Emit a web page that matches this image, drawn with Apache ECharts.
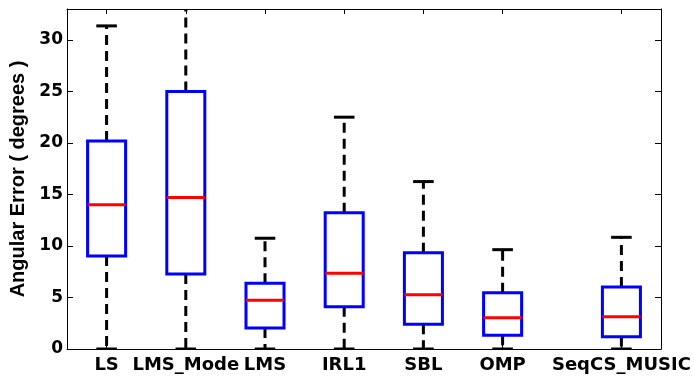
<!DOCTYPE html>
<html>
<head>
<meta charset="utf-8">
<script src="https://cdn.jsdelivr.net/npm/echarts@6/dist/echarts.min.js"></script>
<style>
  html, body { margin: 0; padding: 0; background: #fff; }
  #chart { width: 694px; height: 380px; }
</style>
</head>
<body>
<div id="chart"></div>
<script>
// methods and their x positions (SeqCS_MUSIC sits a bit further right)
const categories = ['LS', 'LMS_Mode', 'LMS', 'IRL1', 'SBL', 'OMP', 'SeqCS_MUSIC'];
const positions = [1, 2, 3, 4, 5, 6, 7.5];

// box statistics, angular error in degrees
const whiskerLow = [0, 0, 0, 0, 0, 0, 0];
const q1 = [9.03, 7.28, 2.04, 4.11, 2.4, 1.33, 1.2];
const median = [14.0, 14.7, 4.73, 7.35, 5.27, 3.04, 3.14];
const q3 = [20.2, 25.0, 6.38, 13.23, 9.35, 5.47, 6.02];
const whiskerHigh = [31.36, 35, 10.75, 22.5, 16.25, 9.64, 10.84];

const yTicks = [0, 5, 10, 15, 20, 25, 30];

const boxData = positions.map((x, i) => [x, whiskerLow[i], q1[i], median[i], q3[i], whiskerHigh[i]]);

const chart = echarts.init(document.getElementById('chart'));

const tickFont = { fontFamily: 'DejaVu Sans', fontWeight: 'bold', color: '#000' };

function renderBox(params, api) {
  const x = api.value(0);
  const lo = api.coord([x, api.value(1)]);
  const b1 = api.coord([x, api.value(2)]);
  const md = api.coord([x, api.value(3)]);
  const b3 = api.coord([x, api.value(4)]);
  const hi = api.coord([x, api.value(5)]);
  const boxW = api.size([0.48, 0])[0];
  const capW = api.size([0.26, 0])[0];
  const cx = b1[0];
  const dash = { stroke: '#000', lineWidth: 3, lineDash: [10, 6] };
  const cap = { stroke: '#000', lineWidth: 3 };
  return {
    type: 'group',
    children: [
      { type: 'line', shape: { x1: cx, y1: b3[1], x2: cx, y2: hi[1] }, style: dash },
      { type: 'line', shape: { x1: cx, y1: b1[1], x2: cx, y2: lo[1] }, style: dash },
      { type: 'line', shape: { x1: cx - capW / 2, y1: hi[1], x2: cx + capW / 2, y2: hi[1] }, style: cap },
      { type: 'line', shape: { x1: cx - capW / 2, y1: lo[1], x2: cx + capW / 2, y2: lo[1] }, style: cap },
      {
        type: 'rect',
        shape: { x: cx - boxW / 2, y: b3[1], width: boxW, height: b1[1] - b3[1] },
        style: { fill: '#fff', stroke: '#0000ff', lineWidth: 3 }
      },
      { type: 'line', shape: { x1: cx - boxW / 2, y1: md[1], x2: cx + boxW / 2, y2: md[1] }, style: { stroke: '#ff0000', lineWidth: 3 } }
    ]
  };
}

const option = {
  animation: false,
  grid: { left: 67, right: 33, top: 9, bottom: 31 },
  xAxis: [
    {
      type: 'value',
      min: 0.5,
      max: 8,
      splitLine: { show: false },
      axisLine: { lineStyle: { color: '#000', width: 1 } },
      axisTick: { inside: true, length: 5, customValues: positions, lineStyle: { color: '#000' } },
      axisLabel: {
        customValues: positions,
        margin: 7,
        fontSize: 18,
        ...tickFont,
        formatter: (v) => {
          const i = positions.indexOf(v);
          return i >= 0 ? categories[i] : '';
        }
      }
    },
    {
      type: 'value',
      position: 'top',
      min: 0.5,
      max: 8,
      splitLine: { show: false },
      axisLine: { onZero: false, lineStyle: { color: '#000', width: 1 } },
      axisTick: { inside: true, length: 5, customValues: positions, lineStyle: { color: '#000' } },
      axisLabel: { show: false }
    }
  ],
  yAxis: [
    {
      type: 'value',
      min: 0,
      max: 33,
      name: 'Angular Error ( degrees )',
      nameLocation: 'middle',
      nameGap: 30,
      nameTextStyle: { fontFamily: 'Liberation Sans', fontWeight: 'bold', fontSize: 20, color: '#000' },
      splitLine: { show: false },
      axisLine: { show: true, lineStyle: { color: '#000', width: 1 } },
      axisTick: { show: true, inside: true, length: 6, customValues: yTicks, lineStyle: { color: '#000' } },
      axisLabel: { customValues: yTicks, margin: 4, fontSize: 17, ...tickFont }
    },
    {
      type: 'value',
      position: 'right',
      min: 0,
      max: 33,
      splitLine: { show: false },
      axisLine: { show: true, onZero: false, lineStyle: { color: '#000', width: 1 } },
      axisTick: { show: true, inside: true, length: 6, customValues: yTicks, lineStyle: { color: '#000' } },
      axisLabel: { show: false }
    }
  ],
  series: [
    {
      type: 'custom',
      xAxisIndex: 0,
      yAxisIndex: 0,
      clip: true,
      renderItem: renderBox,
      encode: { x: 0, y: [1, 2, 3, 4, 5] },
      data: boxData
    }
  ]
};

chart.setOption(option);
</script>
</body>
</html>
